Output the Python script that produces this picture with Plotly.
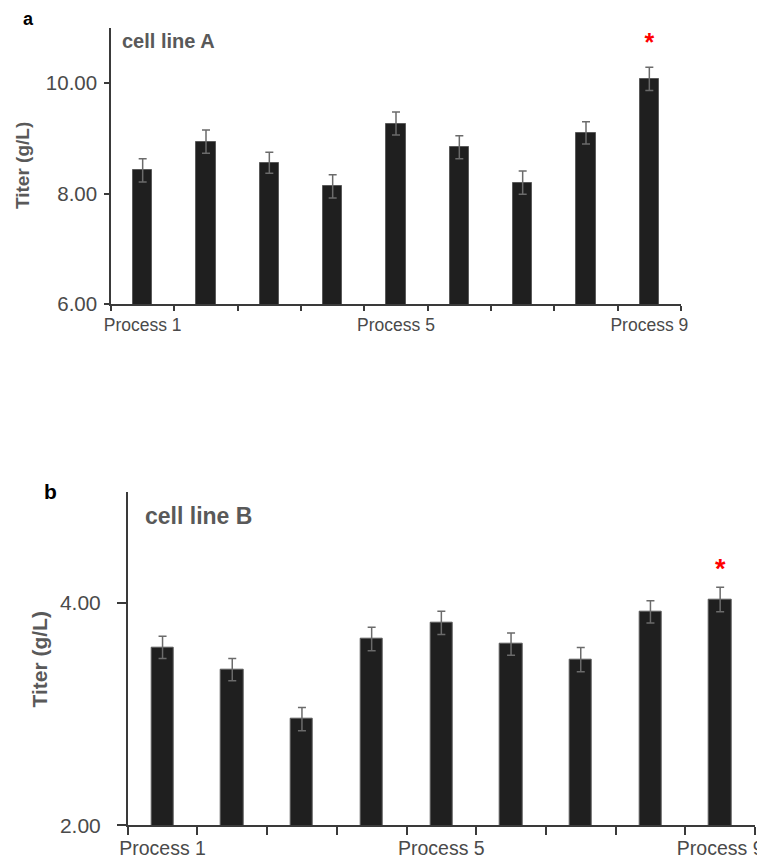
import plotly.graph_objects as go

processes = [f"Process {i}" for i in range(1, 10)]
x_pos = list(range(1, 10))

titer_a = [8.42, 8.94, 8.56, 8.13, 9.27, 8.84, 8.20, 9.10, 10.08]
err_a = [0.21, 0.21, 0.19, 0.21, 0.21, 0.21, 0.21, 0.20, 0.21]

titer_b = [3.60, 3.40, 2.955, 3.675, 3.82, 3.63, 3.49, 3.92, 4.03]
err_b = [0.10, 0.10, 0.105, 0.105, 0.105, 0.10, 0.11, 0.10, 0.11]

sig_index = 8  # Process 9 marked significant in both panels
tick_label_pos = [1, 5, 9]
tick_label_text = ["Process 1", "Process 5", "Process 9"]
boundaries = [i + 0.5 for i in range(0, 10)]

W, H = 765, 861
PAGE_OFFSET = 8  # default body margin of the written html page
def px_x(p): return (p - PAGE_OFFSET) / W
def px_y(p): return 1 - (p - PAGE_OFFSET) / H

fig = go.Figure()

BAR_COLOR = "#1f1f1f"
ERR_COLOR = "#6b6b6b"
AXIS_COLOR = "#3a3a3a"
TEXT_GRAY = "#595959"
FONT = "Liberation Sans, Arial, sans-serif"

for titer, err, xa, ya, width in [
    (titer_a, err_a, "x", "y", 0.31),
    (titer_b, err_b, "x2", "y2", 0.32),
]:
    fig.add_trace(go.Bar(
        x=x_pos, y=titer, width=width, xaxis=xa, yaxis=ya,
        marker=dict(color=BAR_COLOR, line=dict(color="#5a5a5a", width=1)),
        error_y=dict(type="data", array=err, visible=True, color=ERR_COLOR,
                     thickness=1.5, width=4),
        showlegend=False, hoverinfo="skip",
    ))

# significance asterisks
fig.add_trace(go.Scatter(
    x=[x_pos[sig_index]], y=[titer_a[sig_index] + err_a[sig_index] + 0.40],
    mode="text", text=["<b>*</b>"], textfont=dict(color="#ff0000", size=25, family=FONT),
    xaxis="x", yaxis="y", showlegend=False, hoverinfo="skip"))
fig.add_trace(go.Scatter(
    x=[x_pos[sig_index]], y=[titer_b[sig_index] + err_b[sig_index] + 0.14],
    mode="text", text=["<b>*</b>"], textfont=dict(color="#ff0000", size=27, family=FONT),
    xaxis="x2", yaxis="y2", showlegend=False, hoverinfo="skip"))

def xaxis_cfg(domain, tickfont_size, ticklen, standoff):
    return dict(
        domain=domain, range=[0.5, 9.5], showgrid=False, zeroline=False,
        automargin=False,
        showline=True, linecolor=AXIS_COLOR, linewidth=1.5,
        tickmode="array", tickvals=tick_label_pos, ticktext=tick_label_text,
        ticks="outside", ticklen=0, tickcolor=AXIS_COLOR,
        ticklabelstandoff=standoff,
        tickfont=dict(family=FONT, size=tickfont_size, color="#4a4a4a"),
        minor=dict(tickmode="array", tickvals=boundaries, ticks="outside",
                   ticklen=ticklen, tickwidth=1.5, tickcolor=AXIS_COLOR),
        fixedrange=True,
    )

def yaxis_cfg(domain, rng, vals, anchor, fsize, ticklen, standoff):
    return dict(
        domain=domain, range=rng, showgrid=False, zeroline=False,
        automargin=False,
        showline=True, linecolor=AXIS_COLOR, linewidth=1.5,
        tickmode="array", tickvals=vals, tickformat=".2f",
        ticks="outside", ticklen=ticklen, tickwidth=1.5, tickcolor=AXIS_COLOR,
        ticklabelstandoff=standoff,
        tickfont=dict(family=FONT, size=fsize, color="#4a4a4a"),
        anchor=anchor, fixedrange=True,
    )

fig.update_layout(
    width=W, height=H,
    margin=dict(l=0, r=0, t=0, b=0, autoexpand=False),
    paper_bgcolor="white", plot_bgcolor="white",
    bargap=0,
    xaxis=dict(anchor="y", **xaxis_cfg([px_x(111), px_x(681)], 17.5, 5, 4)),
    yaxis=yaxis_cfg([px_y(304), px_y(28)], [6, 11], [6, 8, 10], "x", 20.5, 5, 3),
    xaxis2=dict(anchor="y2", **xaxis_cfg([px_x(127.7), px_x(755)], 19.5, 8, 5)),
    yaxis2=yaxis_cfg([px_y(825.3), px_y(491.7)], [2, 5], [2, 4], "x2", 21, 9, 12),
)

def ann(text, x, y, size, color, xanchor="center", angle=0):
    return dict(text=text, x=px_x(x), y=px_y(y), xref="paper", yref="paper",
                xanchor=xanchor, yanchor="middle", textangle=angle,
                showarrow=False, font=dict(family=FONT, size=size, color=color))

annotations = [
    ann("<b>a</b>", 28, 19, 18, "black"),
    ann("<b>b</b>", 50, 491, 21, "black"),
    ann("<b>cell line A</b>", 120, 41, 20, TEXT_GRAY, xanchor="left"),
    ann("<b>cell line B</b>", 143, 516, 23, TEXT_GRAY, xanchor="left"),
    ann("<b>Titer (g/L)</b>", 22, 166, 19, TEXT_GRAY, angle=-90),
    ann("<b>Titer (g/L)</b>", 38.5, 659, 21, TEXT_GRAY, angle=-90),
]
fig.update_layout(annotations=annotations)

fig.write_html("out.html")
